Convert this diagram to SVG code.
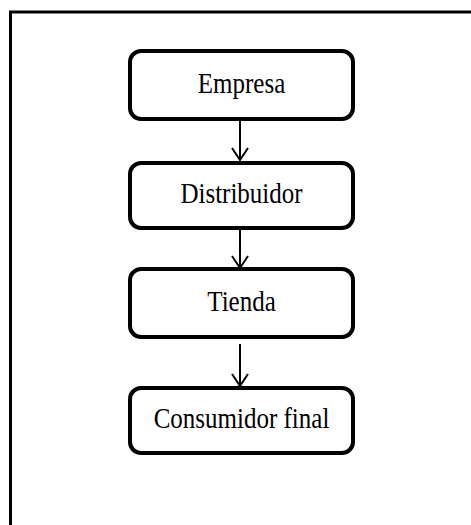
<svg xmlns="http://www.w3.org/2000/svg" width="471" height="525" viewBox="0 0 471 525">
<defs>
<style>
.box{fill:#fff;stroke:#000;stroke-width:4}
.lbl{font-family:"Liberation Serif","Times New Roman",serif;font-size:25px;fill:#000;text-anchor:middle}
.edge{stroke:#000;stroke-width:2;fill:none}
</style>
<marker id="arr" viewBox="0 0 20 20" refX="10" refY="18" markerWidth="20" markerHeight="20" markerUnits="userSpaceOnUse" orient="auto-start-reverse">
<path d="M2 6 L10 18 L18 6" fill="none" stroke="#000" stroke-width="2"/>
</marker>
</defs>
<rect x="0" y="0" width="471" height="525" fill="#fff"/>
<rect id="frame" x="10.5" y="12" width="480" height="540" fill="none" stroke="#000" stroke-width="3"/>
<g id="connectors">
<path class="edge" d="M240 120 V160" transform="rotate(0)"/>
<path class="edge" d="M240 229 V268"/>
<path class="edge" d="M240 344 V386"/>
<path d="M232 148 L240 160 L248 148" class="edge"/>
<path d="M232 256 L240 268 L248 256" class="edge"/>
<path d="M232 374 L240 386 L248 374" class="edge"/>
</g>
<g id="empresa">
<rect class="box" x="130" y="51" width="223" height="68" rx="11"/>
<text class="lbl" transform="translate(241.5 93) scale(1 1.2)">Empresa</text>
</g>
<g id="distribuidor">
<rect class="box" x="130" y="163" width="223" height="65" rx="11"/>
<text class="lbl" transform="translate(241.5 203) scale(1 1.2)">Distribuidor</text>
</g>
<g id="tienda">
<rect class="box" x="130" y="269" width="223" height="68" rx="11"/>
<text class="lbl" transform="translate(241.5 311) scale(1 1.2)">Tienda</text>
</g>
<g id="consumidor">
<rect class="box" x="130" y="388" width="223" height="65" rx="11"/>
<text class="lbl" transform="translate(241.5 428) scale(1 1.2)">Consumidor final</text>
</g>
</svg>
